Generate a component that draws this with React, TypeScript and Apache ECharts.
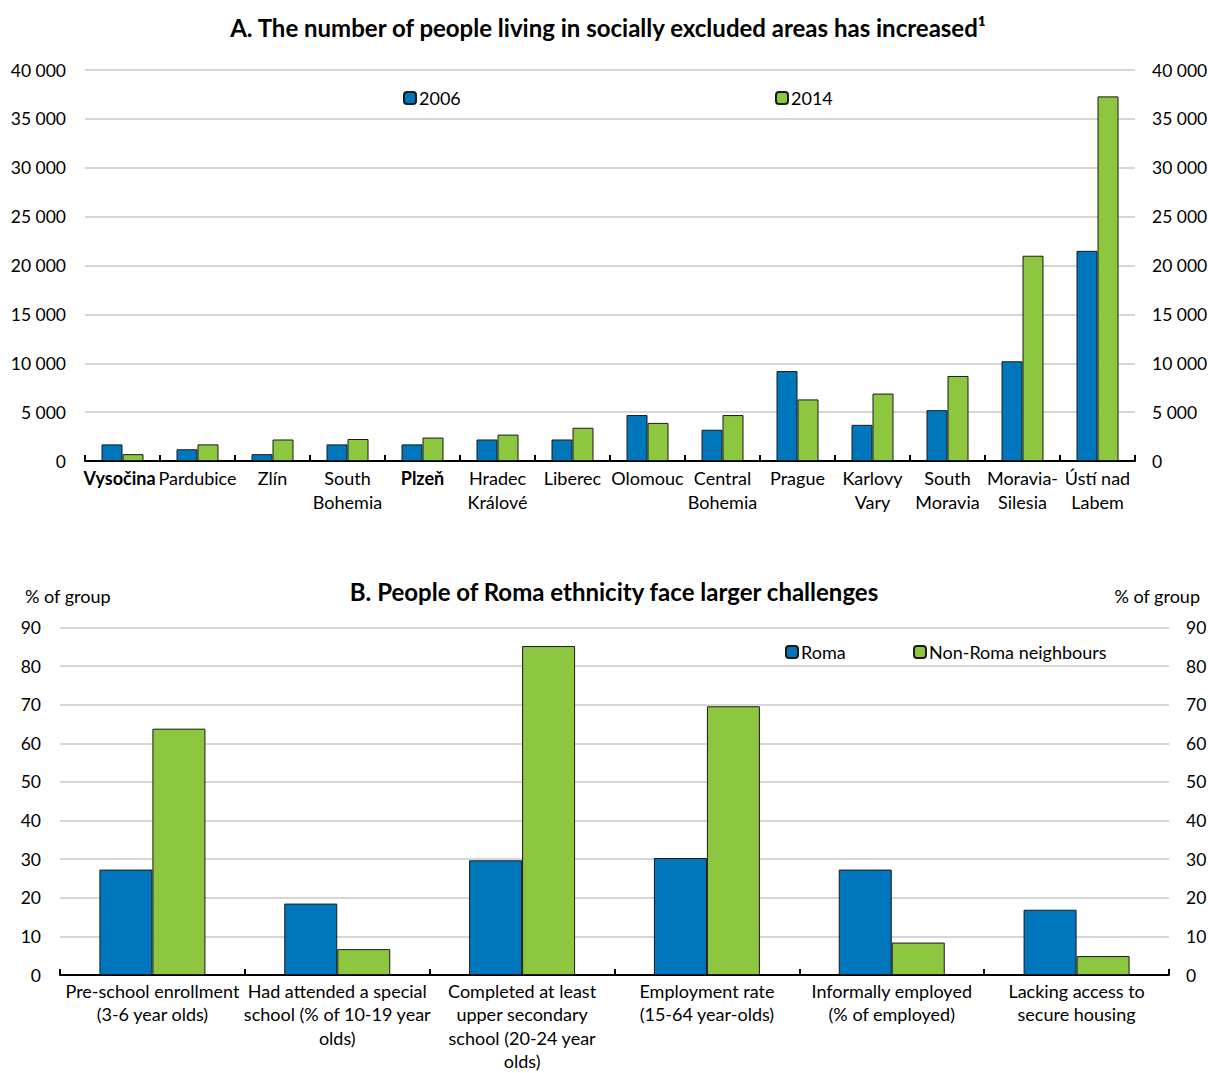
import React, { useEffect, useRef } from "react";
import * as echarts from "echarts";

const regions = [
  "Vysočina", "Pardubice", "Zlín", "South\nBohemia", "Plzeň", "Hradec\nKrálové", "Liberec",
  "Olomouc", "Central\nBohemia", "Prague", "Karlovy\nVary", "South\nMoravia", "Moravia-\nSilesia", "Ústí nad\nLabem",
];
const boldRegions = ["Vysočina", "Plzeň"];
const values2006 = [1700, 1200, 700, 1700, 1700, 2200, 2200, 4700, 3200, 9200, 3700, 5200, 10200, 21500];
const values2014 = [700, 1700, 2200, 2250, 2400, 2700, 3400, 3900, 4700, 6300, 6900, 8700, 21000, 37300];

const indicators = [
  "Pre-school enrollment\n(3-6 year olds)",
  "Had attended a special\nschool (% of 10-19 year\nolds)",
  "Completed at least\nupper secondary\nschool (20-24 year\nolds)",
  "Employment rate\n(15-64 year-olds)",
  "Informally employed\n(% of employed)",
  "Lacking access to\nsecure housing",
];
const roma = [27.3, 18.5, 29.7, 30.3, 27.3, 16.9];
const nonRoma = [63.8, 6.7, 85.2, 69.6, 8.4, 4.9];

const titleA = "A. The number of people living in socially excluded areas has increased¹";
const titleB = "B. People of Roma ethnicity face larger challenges";
const unitB = "% of group";

const BLUE = "#0077bd";
const GREEN = "#8dc63f";
const FONT = "Lato, 'Liberation Sans', sans-serif";
const FS = 18;
const TICK_FS = 17.5;

const fmtThousands = (v: number) => {
  const s = String(Math.round(v));
  return s.replace(/\B(?=(\d{3})+(?!\d))/g, " ");
};

export default function App() {
  const ref = useRef<HTMLDivElement>(null);
  useEffect(() => {
    if (!ref.current) return;
    const chart = echarts.init(ref.current, undefined, { renderer: "svg" });
    const labelStyle = { color: "#000", fontSize: FS, fontFamily: FONT };
    const gridLine = { show: true, lineStyle: { color: "#c8c8c8", width: 1.5 } };
    const catAxisBase = {
      type: "category" as const,
      axisLine: { show: true, lineStyle: { color: "#000", width: 2 } },
      axisTick: { show: true, inside: true, length: 6, lineStyle: { color: "#000", width: 2 } },
      splitLine: { show: false },
    };
    const valAxis = (grid: number, pos: "left" | "right", max: number, interval: number, fmt: (v: number) => string) => ({
      type: "value" as const,
      gridIndex: grid,
      position: pos,
      min: 0,
      max,
      interval,
      axisLine: { show: false },
      axisTick: { show: false },
      splitLine: pos === "left" ? gridLine : { show: false },
      axisLabel: { ...labelStyle, fontSize: TICK_FS, margin: pos === "left" ? 19 : 17, formatter: fmt },
    });
    const barBorder = { borderColor: "#1a1a1a", borderWidth: 1 };
    const legendBase = {
      itemWidth: 12, itemHeight: 12, itemGap: 0, padding: 0,
      textStyle: { ...labelStyle, padding: [0, 0, 0, -2] }, selectedMode: false,
    };
    const boldStyle = { fontWeight: "bold", fontSize: FS, fontFamily: FONT, color: "#000", lineHeight: 24 };
    chart.setOption({
      animation: false,
      backgroundColor: "#fff",
      textStyle: { fontFamily: FONT },
      grid: [
        { left: 85, right: 73, top: 70, height: 391, outerBoundsMode: "none", containLabel: false },
        { left: 60, right: 39, top: 627.5, height: 347.5, outerBoundsMode: "none", containLabel: false },
      ],
      legend: [
        { ...legendBase, data: ["2006"], left: 403, top: 89 },
        { ...legendBase, data: ["2014"], left: 775, top: 89 },
        { ...legendBase, data: ["Roma"], left: 785, top: 643 },
        { ...legendBase, data: ["Non-Roma neighbours"], left: 913, top: 643 },
      ],
      xAxis: [
        {
          ...catAxisBase,
          gridIndex: 0,
          data: regions,
          axisLabel: {
            ...labelStyle,
            interval: 0,
            margin: 5,
            lineHeight: 24,
            hideOverlap: false,
            formatter: (v: string, i: number) =>
              boldRegions.includes(v) ? (i === 0 ? `{bv|${v}}` : `{b|${v}}`) : v,
            rich: { b: boldStyle, bv: { ...boldStyle, padding: [0, 6, 0, 0] } },
          },
        },
        {
          ...catAxisBase,
          gridIndex: 1,
          data: indicators,
          axisLabel: { ...labelStyle, interval: 0, margin: 4, lineHeight: 23.5, hideOverlap: false },
        },
      ],
      yAxis: [
        valAxis(0, "left", 40000, 5000, fmtThousands),
        valAxis(0, "right", 40000, 5000, fmtThousands),
        valAxis(1, "left", 90, 10, (v) => String(v)),
        valAxis(1, "right", 90, 10, (v) => String(v)),
      ],
      series: [
        { name: "2006", type: "bar", xAxisIndex: 0, yAxisIndex: 0, data: values2006, barWidth: 21, barGap: "0%", itemStyle: { color: BLUE, ...barBorder } },
        { name: "2014", type: "bar", xAxisIndex: 0, yAxisIndex: 0, data: values2014, barWidth: 21, barGap: "0%", itemStyle: { color: GREEN, ...barBorder } },
        { name: "Roma", type: "bar", xAxisIndex: 1, yAxisIndex: 2, data: roma, barWidth: 53, barGap: "0%", itemStyle: { color: BLUE, ...barBorder } },
        { name: "Non-Roma neighbours", type: "bar", xAxisIndex: 1, yAxisIndex: 2, data: nonRoma, barWidth: 53, barGap: "0%", itemStyle: { color: GREEN, ...barBorder } },
      ],
      graphic: [
        {
          type: "text", x: 608, y: 27,
          style: { text: titleA, fill: "#000", font: `bold 24px ${FONT}`, textAlign: "center", textVerticalAlign: "middle" },
        },
        {
          type: "text", x: 614, y: 591,
          style: { text: titleB, fill: "#000", font: `bold 24px ${FONT}`, textAlign: "center", textVerticalAlign: "middle" },
        },
        {
          type: "text", x: 25, y: 596,
          style: { text: unitB, fill: "#000", font: `${FS}px ${FONT}`, textAlign: "left", textVerticalAlign: "middle" },
        },
        {
          type: "text", x: 1200, y: 596,
          style: { text: unitB, fill: "#000", font: `${FS}px ${FONT}`, textAlign: "right", textVerticalAlign: "middle" },
        },
      ],
    });
    return () => chart.dispose();
  }, []);
  return <div ref={ref} style={{ position: "absolute", left: 0, top: 0, width: 1208, height: 1073 }} />;
}
